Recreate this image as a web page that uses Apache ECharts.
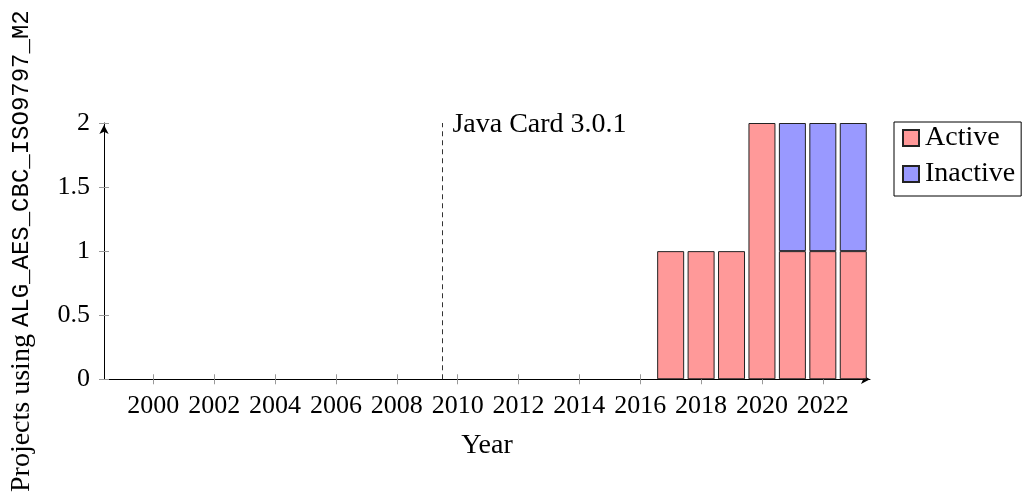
<!DOCTYPE html>
<html>
<head>
<meta charset="utf-8">
<script src="https://cdn.jsdelivr.net/npm/echarts@6/dist/echarts.min.js"></script>
<style>html,body{margin:0;padding:0;background:#fff;}#c{width:1027px;height:495px;}</style>
</head>
<body>
<div id="c"></div>
<script>
var years = [2017, 2018, 2019, 2020, 2021, 2022, 2023];
var active = [1, 1, 1, 2, 1, 1, 1];
var inactive = [0, 0, 0, 0, 1, 1, 1];
var xTicks = [2000, 2002, 2004, 2006, 2008, 2010, 2012, 2014, 2016, 2018, 2020, 2022];
var yTicks = [0, 0.5, 1, 1.5, 2];
var eventYear = 2009.5;
var eventLabel = 'Java Card 3.0.1';

var serif = 'Liberation Serif';
// value first, year second, so that the stack is applied to the value dimension
var activeData = years.map(function (y, i) { return [active[i] > 0 ? active[i] : '-', y]; });
var inactiveData = years.map(function (y, i) { return [inactive[i] > 0 ? inactive[i] : '-', y]; });

var xMin = 1998.38, xMax = 2023.55;
var chart = echarts.init(document.getElementById('c'), null, {renderer: 'canvas'});
chart.setOption({
  animation: false,
  backgroundColor: '#fff',
  grid: {left: 104, right: 157, top: 123, bottom: 114, containLabel: false},
  legend: {
    orient: 'vertical', left: 894, top: 122,
    data: ['Active', 'Inactive'],
    icon: 'rect', itemWidth: 16, itemHeight: 16, itemGap: 8,
    padding: [2, 6, 8, 8],
    borderColor: '#000', borderWidth: 1, borderRadius: 0,
    textStyle: {fontFamily: serif, fontSize: 28, color: '#000', padding: [0, 0, 0, 1]}
  },
  xAxis: [{
    type: 'value', min: xMin, max: xMax,
    name: 'Year', nameLocation: 'middle', nameGap: 52,
    nameTextStyle: {fontFamily: serif, fontSize: 28, color: '#000'},
    axisLine: {show: true, onZero: false, lineStyle: {color: '#000', width: 1},
      symbol: ['none', 'arrow'], symbolSize: [7, 9], symbolOffset: [0, 0]},
    axisTick: {show: true, inside: false, length: 5, lineStyle: {color: '#999'}, customValues: xTicks},
    axisLabel: {show: true, margin: 14, fontFamily: serif, fontSize: 26, color: '#000', customValues: xTicks,
      formatter: function (v) { return String(v); }},
    splitLine: {show: false}
  }, {
    type: 'value', min: xMin, max: xMax, position: 'bottom',
    axisLine: {show: false, onZero: false},
    axisTick: {show: true, inside: true, length: 5, lineStyle: {color: '#999'}, customValues: xTicks},
    axisLabel: {show: false},
    splitLine: {show: false}
  }],
  yAxis: [{
    type: 'value', min: 0, max: 2, interval: 0.5,
    name: '{a|Projects using }{b|ALG_AES_CBC_ISO9797_M2}',
    nameLocation: 'middle', nameGap: 68, nameRotate: 90,
    nameTextStyle: {rich: {
      a: {fontFamily: serif, fontSize: 28, color: '#000'},
      b: {fontFamily: 'Liberation Mono', fontSize: 24, color: '#000'}
    }},
    axisLine: {show: true, onZero: false, lineStyle: {color: '#000', width: 1},
      symbol: ['none', 'arrow'], symbolSize: [7, 9], symbolOffset: [0, -2]},
    axisTick: {show: true, inside: false, length: 5, lineStyle: {color: '#999'}, customValues: yTicks},
    axisLabel: {show: true, margin: 14, fontFamily: serif, fontSize: 26, color: '#000', customValues: yTicks},
    splitLine: {show: false}
  }, {
    type: 'value', min: 0, max: 2, interval: 0.5, position: 'left',
    axisLine: {show: false, onZero: false},
    axisTick: {show: true, inside: true, length: 5, lineStyle: {color: '#999'}, customValues: yTicks},
    axisLabel: {show: false},
    splitLine: {show: false}
  }],
  series: [{
    name: 'Active', type: 'bar', stack: 'total', barWidth: 27,
    encode: {x: 1, y: 0},
    itemStyle: {color: '#ff9999', borderColor: '#222', borderWidth: 1},
    data: activeData
  }, {
    name: 'Inactive', type: 'bar', stack: 'total', barWidth: 27,
    encode: {x: 1, y: 0},
    itemStyle: {color: '#9999ff', borderColor: '#222', borderWidth: 1},
    data: inactiveData
  }, {
    name: 'event', type: 'scatter', symbolSize: 0, silent: true,
    itemStyle: {opacity: 1},
    data: [[eventYear, 2]],
    label: {show: true, position: 'right', distance: 10, formatter: eventLabel,
      fontFamily: serif, fontSize: 28, color: '#000', opacity: 1, offset: [0, 2]},
    markLine: {
      silent: true, symbol: ['none', 'none'],
      lineStyle: {color: '#333', width: 1, type: [5, 4], opacity: 1},
      label: {show: false},
      data: [{xAxis: eventYear}]
    }
  }]
});
</script>
</body>
</html>
